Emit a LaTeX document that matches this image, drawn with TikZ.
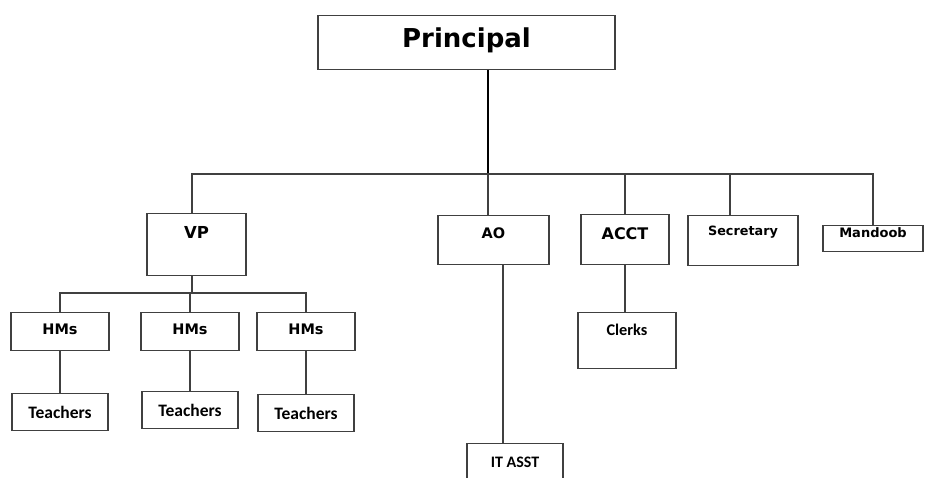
\documentclass[tikz,border=0pt]{standalone}
\usepackage{fontspec}
\newfontfamily\vfont{DejaVu Sans}
\newfontfamily\cfont{Carlito}
\begin{document}
\begin{tikzpicture}[x=1pt,y=-1pt,
	box/.style={draw=black!75, line width=1.3pt, inner sep=0pt, anchor=north},
	vsize/.style={font=\vfont\bfseries\fontsize{#1}{#1}\selectfont},
	csize/.style={font=\cfont\bfseries\fontsize{#1}{#1}\selectfont},
	link/.style={draw=black!75, line width=1.2pt}]
	\clip (0,0) rectangle (925,477);
	\fill[white] (0,0) rectangle (925,477);
	
	% top of the chart
	\node[box, vsize=26, minimum width=297pt, text height=32pt, text depth=22pt] (principal) at (466.5,15) {Principal};
	\coordinate (trunk) at (488,174);
	
	% second row
	\node[box, vsize=16.5, minimum width=99pt, text height=25pt, text depth=37pt] (vp) at (196.5,213) {VP};
	\node[box, vsize=14.5, minimum width=111pt, text height=23pt, text depth=26pt] (ao) at (493.5,215) {AO};
	\node[box, vsize=16, minimum width=88pt, text height=25pt, text depth=25pt] (acct) at (625,214) {ACCT};
	\node[box, vsize=12.8, minimum width=110pt, text height=20pt, text depth=30pt] (secretary) at (743,215) {Secretary};
	\node[box, vsize=13, minimum width=100pt, text height=12pt, text depth=14pt] (mandoob) at (873,225) {Mandoob};
	
	\node[box, csize=16.3, minimum width=98pt, text height=23pt, text depth=33pt] (clerks) at (627,312) {Clerks};
	\node[box, csize=16, minimum width=96pt, text height=24pt, text depth=18pt] (itasst) at (515,443) {IT ASST};
	
	\draw[link, line width=1.8pt, black] (principal.south -| trunk) -- (trunk);
	\draw[link] ([xshift=-4.5pt]vp.north) |- (mandoob.north |- trunk) -- (mandoob.north);
	\draw[link] (trunk) -- (trunk |- ao.north);
	\draw[link] (acct.north |- trunk) -- (acct.north);
	\draw[link] ([xshift=-13pt]secretary.north |- trunk) -- ([xshift=-13pt]secretary.north);
	\draw[link] ([xshift=9.5pt]ao.south) -- ([xshift=9.5pt]ao.south |- itasst.north);
	\draw[link] ([xshift=-2pt]clerks.north |- acct.south) -- ([xshift=-2pt]clerks.north);
	
	% heads of mathematics rows and teachers
	\coordinate (hub) at (192,293);
	\foreach \i/\x/\t in {1/60/393, 2/190/391, 3/306/394}
	{
		\node[box, vsize=14.5, minimum width=98pt, text height=22pt, text depth=16pt] (hm\i) at (\x,312) {HMs};
		\node[box, csize=17.5, minimum width=96pt, text height=25pt, text depth=12pt] (t\i) at (\x,\t) {Teachers};
		\draw[link] (hm\i.south) -- (t\i.north);
	}
	\draw[link] ([xshift=-4.5pt]vp.south) -- (hub) -- (hub -| hm2.north) -- (hm2.north);
	\draw[link] (hm1.north) |- (hub) -| (hm3.north);
\end{tikzpicture}
\end{document}
